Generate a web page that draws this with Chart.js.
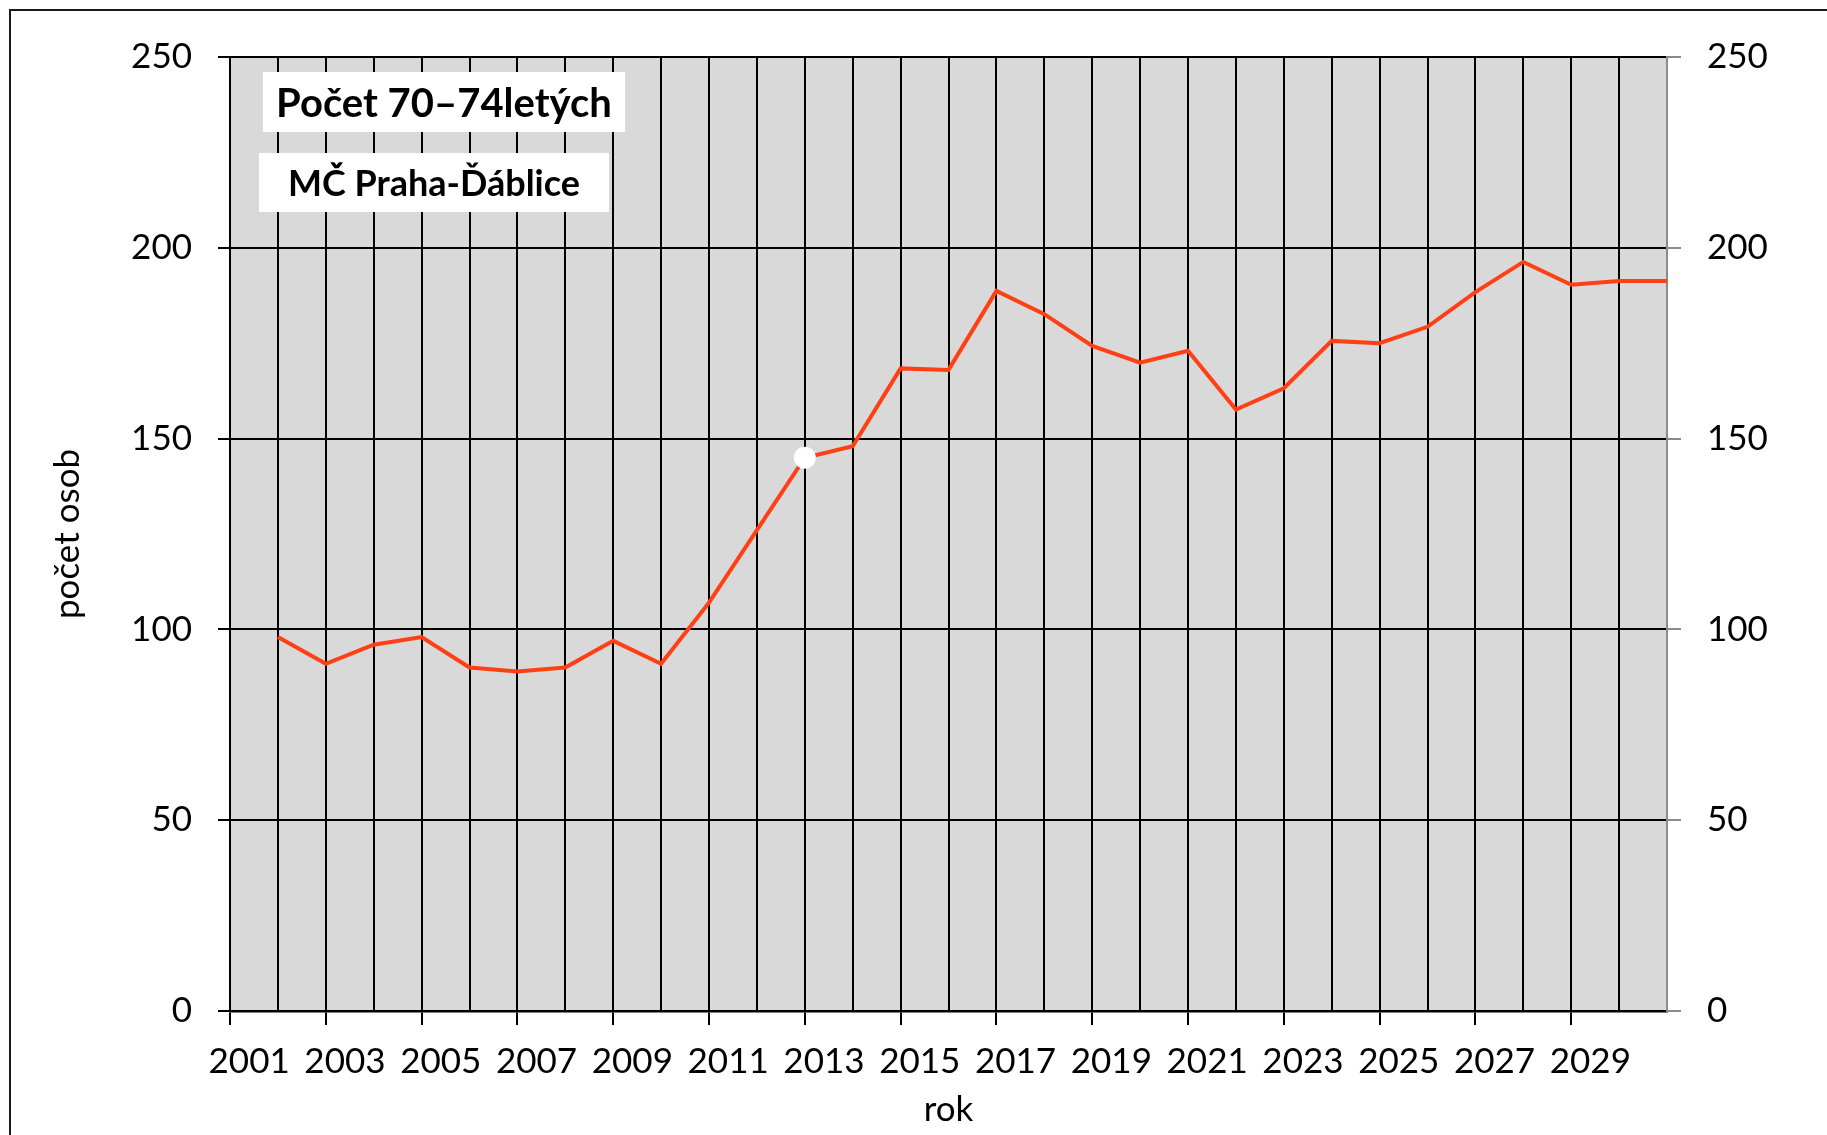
<!DOCTYPE html>
<html lang="cs">
<head>
<meta charset="utf-8">
<title>Počet 70–74letých – MČ Praha-Ďáblice</title>
<script src="https://cdn.jsdelivr.net/npm/chart.js@4.4.1/dist/chart.umd.min.js"></script>
<style>
    html, body { margin: 0; padding: 0; background: #fff; overflow: hidden; }
    #wrap { position: relative; width: 1827px; height: 1135px; }
    #frame {
        position: absolute; left: 9px; top: 9px; width: 1900px; height: 1300px;
        border: 2px solid #1a1a1a; pointer-events: none;
    }
    .box {
        position: absolute; background: #fff; color: #000; text-align: center;
        font-family: Lato, "Open Sans", sans-serif; font-weight: bold; white-space: nowrap;
    }
    #title1 { left: 263px; top: 72px; width: 362px; height: 60px; line-height: 60px; font-size: 40px; }
    #title2 { left: 259px; top: 153px; width: 350px; height: 59px; line-height: 59px; font-size: 36px; }
</style>
</head>
<body>
<div id="wrap">
    <canvas id="populationChart"></canvas>
    <div id="frame"></div>
    <div class="box" id="title1">Počet 70–74letých</div>
    <div class="box" id="title2">MČ Praha-Ďáblice</div>
</div>

<script>
// 🔹 Data
const years = [2001, 2002, 2003, 2004, 2005, 2006, 2007, 2008, 2009, 2010,
               2011, 2012, 2013, 2014, 2015, 2016, 2017, 2018, 2019, 2020,
               2021, 2022, 2023, 2024, 2025, 2026, 2027, 2028, 2029, 2030];
const persons = [98, 91, 96, 98, 90, 89, 90, 97, 91, 107,
                 126, 145, 148, 168.4, 168, 188.7, 182.6, 174.3, 169.9, 173,
                 157.6, 163.2, 175.6, 175, 179.3, 188.4, 196.3, 190.3, 191.3, 191.3];
const markedYear = 2012;   // white dot on the line
const labelYears = ["2001", "2003", "2005", "2007", "2009", "2011", "2013", "2015",
                    "2017", "2019", "2021", "2023", "2025", "2027", "2029"];
const yTicks = [0, 50, 100, 150, 200, 250];

const FONT = "Lato, 'Open Sans', sans-serif";
const LINE_RED = "#ff4014";
const AXIS_GREY = "#8c8c8c";
const LABEL_SHIFT = 0.6;   // year labels sit left of their data point

// 🔹 Grey plot area background
const plotBackground = {
    id: "plotBackground",
    beforeDraw(chart) {
        const { ctx, chartArea: a } = chart;
        ctx.save();
        ctx.fillStyle = "#d9d9d9";
        ctx.fillRect(a.left, a.top, a.right - a.left, a.bottom - a.top);
        ctx.restore();
    }
};

const xMin = years[0] - 1;
const xMax = years[years.length - 1];

function buildXTicks(scale) {
    const ticks = [];
    for (let v = xMin; v <= xMax; v++) ticks.push({ value: v, text: "" });
    labelYears.forEach(l => ticks.push({ value: Number(l) - LABEL_SHIFT, text: l }));
    ticks.sort((a, b) => a.value - b.value);
    scale.ticks = ticks;
}

const isYear = v => Math.abs(v - Math.round(v)) < 1e-6;

const ctx = document.getElementById("populationChart").getContext("2d");

new Chart(ctx, {
    type: "line",
    data: {
        datasets: [{
            label: "počet osob",
            data: years.map((y, i) => ({ x: y, y: persons[i] })),
            borderColor: LINE_RED,
            borderWidth: 4,
            tension: 0,
            pointRadius: c => (years[c.dataIndex] === markedYear ? 11 : 0),
            pointBackgroundColor: "#ffffff",
            pointBorderWidth: 0,
            pointHoverRadius: 0,
            clip: false
        }]
    },
    options: {
        responsive: true,
        maintainAspectRatio: false,
        animation: false,
        layout: { padding: { top: 57, left: 0, right: 0, bottom: 0 } },
        plugins: {
            legend: { display: false },
            tooltip: { enabled: false }
        },
        scales: {
            x: {
                type: "linear",
                position: "bottom",
                min: xMin,
                max: xMax,
                afterBuildTicks: buildXTicks,
                afterFit: s => { s.height = 124; },
                grid: {
                    lineWidth: 2,
                    color: c => {
                        if (!isYear(c.tick.value)) return "rgba(0,0,0,0)";
                        return Math.round(c.tick.value) === xMax ? AXIS_GREY : "#000";
                    },
                    tickColor: c => {
                        const v = c.tick.value;
                        return isYear(v) && Math.round(v) % 2 === 0 && Math.round(v) !== xMax ? "#000" : "rgba(0,0,0,0)";
                    },
                    tickLength: 14
                },
                border: { color: "#000", width: 2.5 },
                ticks: {
                    autoSkip: false,
                    maxRotation: 0,
                    minRotation: 0,
                    padding: 16,
                    color: "#000",
                    font: { family: FONT, size: 35 },
                    callback: (value, index, ticks) => ticks[index].text
                },
                title: {
                    display: true,
                    text: "rok",
                    color: "#000",
                    font: { family: FONT, size: 35 },
                    padding: { top: 0, bottom: 4 }
                }
            },
            y: {
                position: "left",
                min: yTicks[0],
                max: yTicks[yTicks.length - 1],
                afterBuildTicks: s => { s.ticks = yTicks.map(v => ({ value: v })); },
                afterFit: s => { s.width = 230; },
                grid: { color: "#000", lineWidth: 2, tickLength: 12 },
                border: { color: "#000", width: 2 },
                ticks: {
                    padding: 26,
                    color: "#000",
                    font: { family: FONT, size: 35 }
                },
                title: {
                    display: true,
                    text: "počet osob",
                    color: "#000",
                    font: { family: FONT, size: 35 },
                    padding: { top: 47, bottom: 0 }
                }
            },
            y2: {
                position: "right",
                min: yTicks[0],
                max: yTicks[yTicks.length - 1],
                afterBuildTicks: s => { s.ticks = yTicks.map(v => ({ value: v })); },
                afterFit: s => { s.width = 160; },
                grid: { drawOnChartArea: false, color: AXIS_GREY, lineWidth: 2, tickLength: 14 },
                border: { color: AXIS_GREY, width: 2 },
                ticks: {
                    padding: 26,
                    color: "#000",
                    font: { family: FONT, size: 35 }
                }
            }
        }
    },
    plugins: [plotBackground]
});
</script>
</body>
</html>
